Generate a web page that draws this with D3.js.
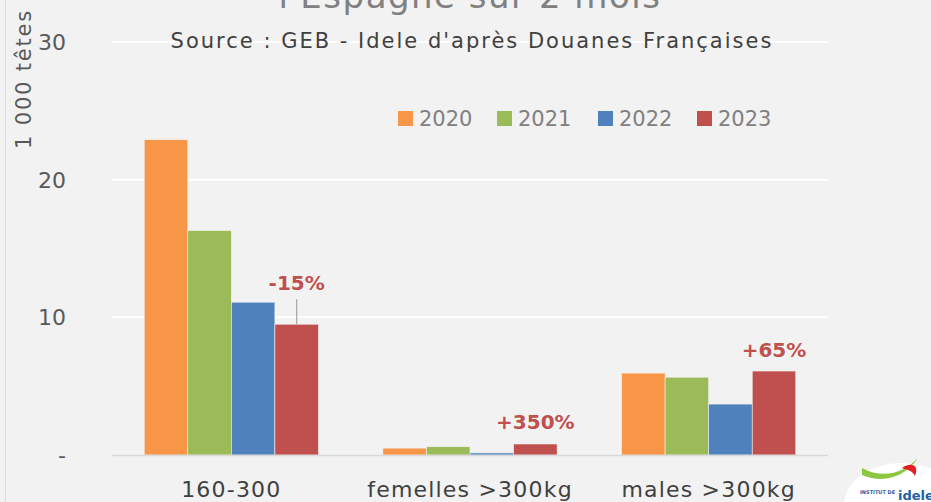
<!DOCTYPE html>
<html>
<head>
<meta charset="utf-8">
<script src="https://cdn.jsdelivr.net/npm/d3@7"></script>
<style>
  body { margin: 0; background: #f2f2f2; }
  svg { display: block; }
  text { font-family: "DejaVu Sans", sans-serif; }
</style>
</head>
<body>
<div id="chart"></div>
<script>
// categories and series
var categories = ["160-300", "femelles >300kg", "males >300kg"];
var years = ["2020", "2021", "2022", "2023"];
var colors = ["#f79646", "#9bbb59", "#4f81bd", "#c0504d"];
var values2020 = [22.9, 0.5, 5.95];
var values2021 = [16.3, 0.6, 5.65];
var values2022 = [11.1, 0.15, 3.7];
var values2023 = [9.5, 0.8, 6.1];
var evolLabels = ["-15%", "+350%", "+65%"];
var yTicks = [0, 10, 20, 30];

var W = 931, H = 502;
var series = [values2020, values2021, values2022, values2023];

var svg = d3.select("#chart").append("svg")
    .attr("width", W).attr("height", H);

svg.append("rect").attr("width", W).attr("height", H).attr("fill", "#f2f2f2");
// left frame edge
svg.append("line").attr("x1", 5.5).attr("x2", 5.5).attr("y1", 0).attr("y2", H)
    .attr("stroke", "#d9d9d9");

var y = d3.scaleLinear().domain([0, 30]).range([455, 42]);
var x0 = d3.scaleBand().domain(categories).range([112, 828]);
var bw = x0.bandwidth();
var x1 = d3.scaleBand().domain(years).range([bw * 0.135, bw * 0.865]);

// title (cropped at top, as in the source image)
svg.append("text").attr("x", 470).attr("y", 8)
    .attr("text-anchor", "middle").attr("font-size", 34).attr("fill", "#808080")
    .attr("letter-spacing", 1.5)
    .text("l'Espagne sur 2 mois");

// gridlines
svg.append("g").selectAll("line").data(yTicks.filter(function(d) { return d > 0; }))
  .enter().append("line")
    .attr("x1", 112).attr("x2", 828)
    .attr("y1", function(d) { return y(d); }).attr("y2", function(d) { return y(d); })
    .attr("stroke", "#ffffff").attr("stroke-width", 2);

svg.append("text").attr("x", 472).attr("y", 48)
    .attr("text-anchor", "middle").attr("font-size", 21).attr("fill", "#404040")
    .attr("letter-spacing", 2)
    .text("Source : GEB - Idele d'après Douanes Françaises");

// y tick labels
svg.append("g").selectAll("text").data(yTicks).enter().append("text")
    .attr("x", 66).attr("y", function(d) { return y(d) + 8; })
    .attr("text-anchor", "end").attr("font-size", 22).attr("fill", "#595959")
    .text(function(d) { return d === 0 ? "-" : d; });

svg.append("text")
    .attr("transform", "translate(31,79) rotate(-90)")
    .attr("text-anchor", "middle").attr("font-size", 21).attr("fill", "#595959")
    .attr("letter-spacing", 1.8)
    .text("1 000 têtes");

// bars
var groups = svg.append("g").selectAll("g").data(categories).enter().append("g")
    .attr("transform", function(d) { return "translate(" + x0(d) + ",0)"; });

groups.selectAll("rect")
    .data(function(d, i) { return years.map(function(yr, k) { return { yr: yr, k: k, v: series[k][i] }; }); })
  .enter().append("rect")
    .attr("x", function(d) { return x1(d.yr); })
    .attr("width", x1.bandwidth())
    .attr("y", function(d) { return y(d.v); })
    .attr("height", function(d) { return y(0) - y(d.v); })
    .attr("fill", function(d) { return colors[d.k]; })
    .attr("stroke", "#f2f2f2").attr("stroke-width", 0.6);

// baseline
svg.append("line").attr("x1", 112).attr("x2", 828).attr("y1", 455.5).attr("y2", 455.5)
    .attr("stroke", "#d9d9d9").attr("stroke-width", 1.5);

// category labels
svg.append("g").selectAll("text").data(categories).enter().append("text")
    .attr("x", function(d) { return x0(d) + bw / 2; }).attr("y", 497)
    .attr("text-anchor", "middle").attr("font-size", 22).attr("fill", "#404040")
    .attr("letter-spacing", 1.2)
    .text(function(d) { return d; });

// evolution labels above 2023 bars
var lblOffset = [40, 15, 14];
categories.forEach(function(c, i) {
  var cx = x0(c) + x1("2023") + x1.bandwidth() / 2;
  var top = y(values2023[i]);
  var ly = i === 0 ? y(values2022[0]) - 12 : top - lblOffset[i];
  svg.append("text").attr("x", cx).attr("y", ly)
      .attr("text-anchor", "middle").attr("font-size", 20).attr("font-weight", "bold")
      .attr("fill", "#c0504d").text(evolLabels[i]);
  if (i === 0) {
    svg.append("line").attr("x1", cx).attr("x2", cx)
        .attr("y1", ly + 9).attr("y2", top)
        .attr("stroke", "#a6a6a6").attr("stroke-width", 1.2);
  }
});

// legend
var legend = svg.append("g").selectAll("g").data(years).enter().append("g")
    .attr("transform", function(d, i) { return "translate(" + [398, 497, 598, 697][i] + ",111)"; });
legend.append("rect").attr("width", 15).attr("height", 15)
    .attr("fill", function(d, i) { return colors[i]; });
legend.append("text").attr("x", 21).attr("y", 15).attr("font-size", 21).attr("fill", "#808080")
    .text(function(d) { return d; });

// logo blob
var logo = svg.append("g");
logo.append("ellipse").attr("cx", 902).attr("cy", 505).attr("rx", 58).attr("ry", 42).attr("fill", "#ffffff");
logo.append("path").attr("d", "M862,468 C884,480 905,472 918,458 C905,477 884,484 862,475 Z").attr("fill", "#8dc63f");
logo.append("path").attr("d", "M902,468 C910,462 920,464 915,476 C912,470 907,470 902,468 Z").attr("fill", "#e31e24");
logo.append("text").attr("x", 898).attr("y", 500).attr("font-size", 13).attr("font-weight", "bold")
    .attr("fill", "#1f5fa8").text("idele");
logo.append("text").attr("x", 860).attr("y", 494).attr("font-size", 5).attr("font-weight", "bold")
    .attr("fill", "#1f5fa8").text("INSTITUT DE");
</script>
</body>
</html>
